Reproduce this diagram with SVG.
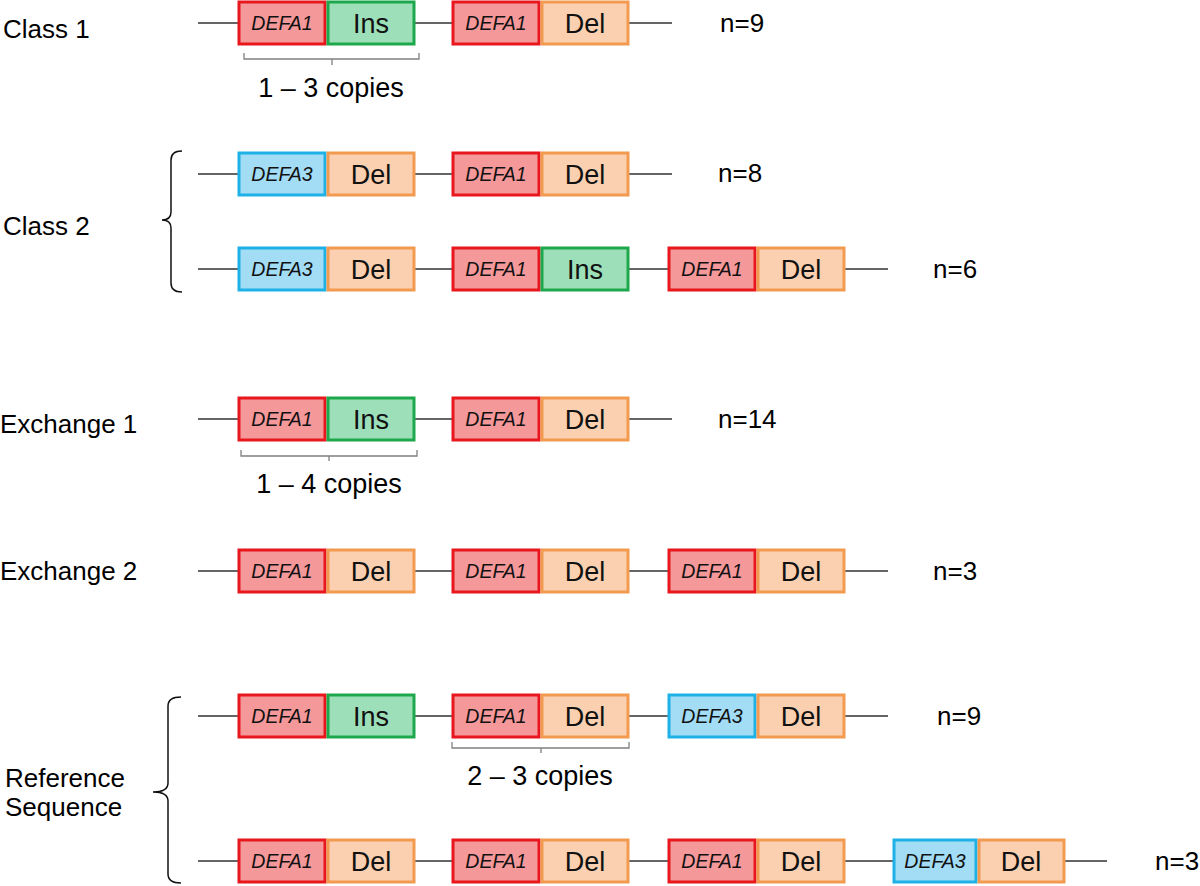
<svg xmlns="http://www.w3.org/2000/svg" width="1200" height="886" viewBox="0 0 1200 886">
<style>
.bg{fill:#ffffff}
.ln{stroke:#333333;stroke-width:1.6;fill:none}
.br{stroke:#111111;stroke-width:1.5;fill:none}
.cb{stroke:#808080;stroke-width:1.3;fill:none}
.d1{fill:#f5989a;stroke:#e8161d;stroke-width:3}
.d3{fill:#a2dcf5;stroke:#1db1e6;stroke-width:3}
.ins{fill:#9cdfb9;stroke:#1ea84c;stroke-width:3}
.del{fill:#fbd0b0;stroke:#f29a50;stroke-width:3}
.gt{font-family:"Liberation Sans",Arial,sans-serif;font-style:italic;font-size:19.5px;fill:#111;text-anchor:middle}
.bt{font-family:"Liberation Sans",Arial,sans-serif;font-size:27px;fill:#111;text-anchor:middle}
.lb{font-family:"Liberation Sans",Arial,sans-serif;font-size:26px;fill:#000}
.cp{font-family:"Liberation Sans",Arial,sans-serif;font-size:27px;fill:#000;text-anchor:middle}
</style>
<rect class="bg" x="0" y="0" width="1200" height="886"/>

<g id="connectors">
  <path class="ln" d="M198,23H238M415,23H452M629,23H672"/>
  <path class="ln" d="M198,174H238M415,174H452M629,174H672"/>
  <path class="ln" d="M198,269H238M415,269H452M629,269H668M845,269H888"/>
  <path class="ln" d="M198,419H238M415,419H452M629,419H672"/>
  <path class="ln" d="M198,571H238M415,571H452M629,571H668M845,571H888"/>
  <path class="ln" d="M198,716H238M415,716H452M629,716H668M845,716H888"/>
  <path class="ln" d="M198,861H238M415,861H452M629,861H668M845,861H893M1065,861H1107"/>
</g>

<g id="braces">
  <path class="br" d="M182,151Q171,151 171,160V212Q171,220 162,220Q171,220 171,228V283Q171,292 182,292"/>
  <path class="br" d="M181,697Q168,697 168,706V783Q168,792 153,792Q168,792 168,801V874Q168,883 181,883"/>
  <path class="cb" d="M244,53V59H419V53M332,59V65"/>
  <path class="cb" d="M241,450V456H417V450M329,456V461"/>
  <path class="cb" d="M452,742V748H629V742M541,748V753"/>
</g>

<g id="labels">
  <text class="lb" x="3" y="38">Class 1</text>
  <text class="lb" x="3" y="235">Class 2</text>
  <text class="lb" x="0" y="433">Exchange 1</text>
  <text class="lb" x="0" y="580">Exchange 2</text>
  <text class="lb" x="5" y="787">Reference</text>
  <text class="lb" x="5" y="816">Sequence</text>
  <text class="lb" x="720" y="32">n=9</text>
  <text class="lb" x="718" y="182">n=8</text>
  <text class="lb" x="933" y="278">n=6</text>
  <text class="lb" x="718" y="428">n=14</text>
  <text class="lb" x="933" y="580">n=3</text>
  <text class="lb" x="937" y="725">n=9</text>
  <text class="lb" x="1155" y="870">n=3</text>
  <text class="cp" x="331" y="97">1 – 3 copies</text>
  <text class="cp" x="329" y="493">1 – 4 copies</text>
  <text class="cp" x="540" y="785">2 – 3 copies</text>
</g>

<g id="c1-defa1a"><rect class="d1" x="239" y="2" width="86" height="42"/><text class="gt" x="282" y="30">DEFA1</text></g>
<g id="c1-ins"><rect class="ins" x="328" y="2" width="86" height="42"/><text class="bt" x="371" y="33">Ins</text></g>
<g id="c1-defa1b"><rect class="d1" x="453" y="2" width="86" height="42"/><text class="gt" x="496" y="30">DEFA1</text></g>
<g id="c1-del"><rect class="del" x="542" y="2" width="86" height="42"/><text class="bt" x="585" y="33">Del</text></g>

<g id="c2a-defa3"><rect class="d3" x="239" y="153" width="86" height="42"/><text class="gt" x="282" y="181">DEFA3</text></g>
<g id="c2a-del1"><rect class="del" x="328" y="153" width="86" height="42"/><text class="bt" x="371" y="184">Del</text></g>
<g id="c2a-defa1"><rect class="d1" x="453" y="153" width="86" height="42"/><text class="gt" x="496" y="181">DEFA1</text></g>
<g id="c2a-del2"><rect class="del" x="542" y="153" width="86" height="42"/><text class="bt" x="585" y="184">Del</text></g>

<g id="c2b-defa3"><rect class="d3" x="239" y="248" width="86" height="42"/><text class="gt" x="282" y="276">DEFA3</text></g>
<g id="c2b-del1"><rect class="del" x="328" y="248" width="86" height="42"/><text class="bt" x="371" y="279">Del</text></g>
<g id="c2b-defa1a"><rect class="d1" x="453" y="248" width="86" height="42"/><text class="gt" x="496" y="276">DEFA1</text></g>
<g id="c2b-ins"><rect class="ins" x="542" y="248" width="86" height="42"/><text class="bt" x="585" y="279">Ins</text></g>
<g id="c2b-defa1b"><rect class="d1" x="669" y="248" width="86" height="42"/><text class="gt" x="712" y="276">DEFA1</text></g>
<g id="c2b-del2"><rect class="del" x="758" y="248" width="86" height="42"/><text class="bt" x="801" y="279">Del</text></g>

<g id="e1-defa1a"><rect class="d1" x="239" y="398" width="86" height="42"/><text class="gt" x="282" y="426">DEFA1</text></g>
<g id="e1-ins"><rect class="ins" x="328" y="398" width="86" height="42"/><text class="bt" x="371" y="429">Ins</text></g>
<g id="e1-defa1b"><rect class="d1" x="453" y="398" width="86" height="42"/><text class="gt" x="496" y="426">DEFA1</text></g>
<g id="e1-del"><rect class="del" x="542" y="398" width="86" height="42"/><text class="bt" x="585" y="429">Del</text></g>

<g id="e2-defa1a"><rect class="d1" x="239" y="550" width="86" height="42"/><text class="gt" x="282" y="578">DEFA1</text></g>
<g id="e2-del1"><rect class="del" x="328" y="550" width="86" height="42"/><text class="bt" x="371" y="581">Del</text></g>
<g id="e2-defa1b"><rect class="d1" x="453" y="550" width="86" height="42"/><text class="gt" x="496" y="578">DEFA1</text></g>
<g id="e2-del2"><rect class="del" x="542" y="550" width="86" height="42"/><text class="bt" x="585" y="581">Del</text></g>
<g id="e2-defa1c"><rect class="d1" x="669" y="550" width="86" height="42"/><text class="gt" x="712" y="578">DEFA1</text></g>
<g id="e2-del3"><rect class="del" x="758" y="550" width="86" height="42"/><text class="bt" x="801" y="581">Del</text></g>

<g id="ra-defa1a"><rect class="d1" x="239" y="695" width="86" height="42"/><text class="gt" x="282" y="723">DEFA1</text></g>
<g id="ra-ins"><rect class="ins" x="328" y="695" width="86" height="42"/><text class="bt" x="371" y="726">Ins</text></g>
<g id="ra-defa1b"><rect class="d1" x="453" y="695" width="86" height="42"/><text class="gt" x="496" y="723">DEFA1</text></g>
<g id="ra-del1"><rect class="del" x="542" y="695" width="86" height="42"/><text class="bt" x="585" y="726">Del</text></g>
<g id="ra-defa3"><rect class="d3" x="669" y="695" width="86" height="42"/><text class="gt" x="712" y="723">DEFA3</text></g>
<g id="ra-del2"><rect class="del" x="758" y="695" width="86" height="42"/><text class="bt" x="801" y="726">Del</text></g>

<g id="rb-defa1a"><rect class="d1" x="239" y="840" width="86" height="42"/><text class="gt" x="282" y="868">DEFA1</text></g>
<g id="rb-del1"><rect class="del" x="328" y="840" width="86" height="42"/><text class="bt" x="371" y="871">Del</text></g>
<g id="rb-defa1b"><rect class="d1" x="453" y="840" width="86" height="42"/><text class="gt" x="496" y="868">DEFA1</text></g>
<g id="rb-del2"><rect class="del" x="542" y="840" width="86" height="42"/><text class="bt" x="585" y="871">Del</text></g>
<g id="rb-defa1c"><rect class="d1" x="669" y="840" width="86" height="42"/><text class="gt" x="712" y="868">DEFA1</text></g>
<g id="rb-del3"><rect class="del" x="758" y="840" width="86" height="42"/><text class="bt" x="801" y="871">Del</text></g>
<g id="rb-defa3"><rect class="d3" x="894" y="840" width="82" height="42"/><text class="gt" x="935" y="868">DEFA3</text></g>
<g id="rb-del4"><rect class="del" x="979" y="840" width="85" height="42"/><text class="bt" x="1021" y="871">Del</text></g>
</svg>
